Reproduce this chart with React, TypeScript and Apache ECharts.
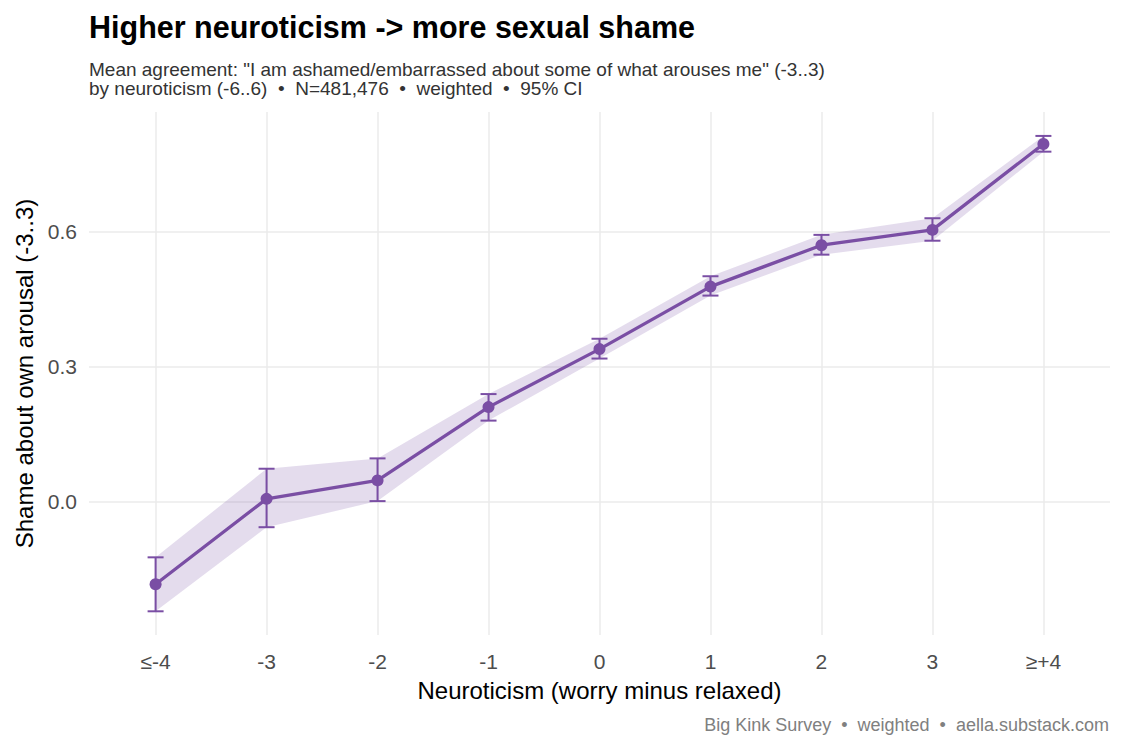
import { useEffect, useRef } from "react";
import * as echarts from "echarts";

// Neuroticism buckets (worry minus relaxed), clipped at ±4
const categories = ["≤-4", "-3", "-2", "-1", "0", "1", "2", "3", "≥+4"];
// Mean agreement with the shame item, -3..3 scale
const meanShame = [-0.184, 0.006, 0.047, 0.210, 0.339, 0.478, 0.570, 0.604, 0.795];
// 95% confidence interval bounds
const ciLower = [-0.244, -0.057, 0.001, 0.180, 0.318, 0.458, 0.549, 0.580, 0.778];
const ciUpper = [-0.124, 0.073, 0.096, 0.239, 0.362, 0.501, 0.593, 0.630, 0.813];
// Labelled y ticks
const yTicks = [0, 0.3, 0.6];

const PURPLE = "#7A4EA4";
const RIBBON = "rgba(122,78,164,0.2)";
const FONT = '"Liberation Sans", Arial, Helvetica, sans-serif';

export default function App() {
  const ref = useRef<HTMLDivElement>(null);

  useEffect(() => {
    document.body.style.margin = "0";
    if (!ref.current) return;
    const chart = echarts.init(ref.current, null, { renderer: "svg" });
    const xIdx = categories.map((_, i) => i);

    chart.setOption({
      animation: false,
      backgroundColor: "#ffffff",
      textStyle: { fontFamily: FONT },
      grid: { left: 89, right: 15, top: 112, bottom: 115 },
      xAxis: {
        type: "value",
        min: -0.6,
        max: 8.6,
        axisLine: { show: false },
        axisTick: { show: false, customValues: xIdx },
        axisLabel: {
          customValues: xIdx,
          formatter: (v: number) => categories[Math.round(v)] ?? "",
          color: "#4d4d4d",
          fontSize: 21,
          fontFamily: FONT,
          margin: 16,
        },
        splitLine: { show: true, lineStyle: { color: "#ebebeb", width: 1.5 } },
        name: "Neuroticism (worry minus relaxed)",
        nameLocation: "middle",
        nameGap: 43,
        nameTextStyle: { color: "#000000", fontSize: 24, fontFamily: FONT },
      },
      yAxis: {
        type: "value",
        min: -0.2967,
        max: 0.8662,
        axisLine: { show: false },
        axisTick: { show: false, customValues: yTicks },
        axisLabel: {
          customValues: yTicks,
          formatter: (v: number) => v.toFixed(1),
          color: "#4d4d4d",
          fontSize: 21,
          fontFamily: FONT,
          margin: 12,
        },
        splitLine: { show: true, lineStyle: { color: "#ebebeb", width: 1.5 } },
        name: "Shame about own arousal (-3..3)",
        nameLocation: "middle",
        nameRotate: 90,
        nameGap: 52,
        nameTextStyle: { color: "#000000", fontSize: 24, fontFamily: FONT },
      },
      series: [
        {
          // confidence ribbon
          type: "custom",
          silent: true,
          z: 1,
          data: xIdx.map((i) => [i, ciLower[i], ciUpper[i]]),
          encode: { x: 0, y: [1, 2] },
          renderItem: (params: any, api: any) => {
            if (params.dataIndex !== 0) return null;
            const upper = ciUpper.map((v, i) => api.coord([i, v]));
            const lower = ciLower.map((v, i) => api.coord([i, v])).reverse();
            return {
              type: "polygon",
              shape: { points: [...upper, ...lower] },
              style: { fill: RIBBON },
            };
          },
        },
        {
          // error bars
          type: "custom",
          silent: true,
          z: 2,
          data: xIdx.map((i) => [i, ciLower[i], ciUpper[i]]),
          encode: { x: 0, y: [1, 2] },
          renderItem: (_params: any, api: any) => {
            const x = api.value(0);
            const lo = api.coord([x, api.value(1)]);
            const hi = api.coord([x, api.value(2)]);
            const hw = 8;
            const style = { stroke: PURPLE, lineWidth: 2 };
            return {
              type: "group",
              children: [
                { type: "line", shape: { x1: lo[0], y1: lo[1], x2: hi[0], y2: hi[1] }, style },
                { type: "line", shape: { x1: lo[0] - hw, y1: lo[1], x2: lo[0] + hw, y2: lo[1] }, style },
                { type: "line", shape: { x1: hi[0] - hw, y1: hi[1], x2: hi[0] + hw, y2: hi[1] }, style },
              ],
            };
          },
        },
        {
          type: "line",
          z: 3,
          data: xIdx.map((i) => [i, meanShame[i]]),
          symbol: "circle",
          symbolSize: 12,
          itemStyle: { color: PURPLE },
          lineStyle: { color: PURPLE, width: 3.3 },
          silent: true,
        },
      ],
      graphic: [
        {
          type: "text",
          x: 89,
          y: 27,
          style: {
            text: "Higher neuroticism -> more sexual shame",
            font: `bold 30.5px ${FONT}`,
            fill: "#000000",
            verticalAlign: "middle",
          },
        },
        {
          type: "text",
          x: 89,
          y: 69,
          style: {
            text: 'Mean agreement: "I am ashamed/embarrassed about some of what arouses me" (-3..3)',
            font: `19px ${FONT}`,
            fill: "#333333",
            verticalAlign: "middle",
          },
        },
        {
          type: "text",
          x: 89,
          y: 88,
          style: {
            text: "by neuroticism (-6..6)  •  N=481,476  •  weighted  •  95% CI",
            font: `19px ${FONT}`,
            fill: "#333333",
            verticalAlign: "middle",
          },
        },
        {
          type: "text",
          x: 1109,
          y: 725,
          style: {
            text: "Big Kink Survey  •  weighted  •  aella.substack.com",
            font: `18px ${FONT}`,
            fill: "#808080",
            align: "right",
            verticalAlign: "middle",
          },
        },
      ],
    });

    return () => chart.dispose();
  }, []);

  return (
    <div
      ref={ref}
      style={{ position: "absolute", left: 0, top: 0, width: 1125, height: 750 }}
    />
  );
}
